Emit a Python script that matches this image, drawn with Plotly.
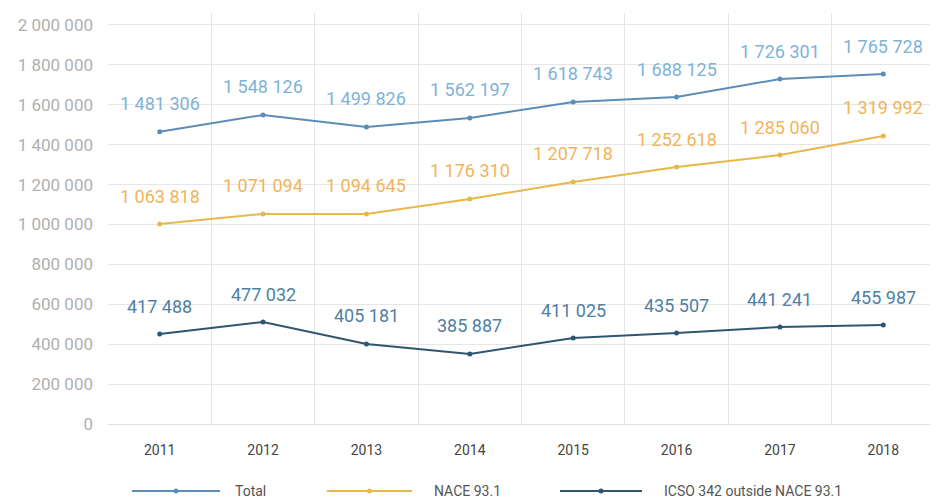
import plotly.graph_objects as go

years = ["2011", "2012", "2013", "2014", "2015", "2016", "2017", "2018"]

total_values = [1465000, 1549000, 1489000, 1534000, 1614000, 1639000, 1729000, 1754000]
nace_values = [1002000, 1053000, 1053000, 1128000, 1213000, 1288000, 1348000, 1444000]
icso_values = [451000, 511000, 401000, 351000, 431000, 456000, 486000, 496000]

total_labels = ["1 481 306", "1 548 126", "1 499 826", "1 562 197", "1 618 743", "1 688 125", "1 726 301", "1 765 728"]
nace_labels = ["1 063 818", "1 071 094", "1 094 645", "1 176 310", "1 207 718", "1 252 618", "1 285 060", "1 319 992"]
icso_labels = ["417 488", "477 032", "405 181", "385 887", "411 025", "435 507", "441 241", "455 987"]

series_names = ["Total", "NACE 93.1", "ICSO 342 outside NACE 93.1"]

FONT = "Roboto, Liberation Sans, sans-serif"

series = [
    (series_names[0], total_values, total_labels, "#5b8db8", "#7fb2d8"),
    (series_names[1], nace_values, nace_labels, "#e9b84c", "#f0b45a"),
    (series_names[2], icso_values, icso_labels, "#2f5670", "#4f7fa3"),
]

fig = go.Figure()
annotations = []
for name, vals, labs, lc, tc in series:
    fig.add_trace(go.Scatter(
        x=years, y=vals, name=name, mode="lines+markers",
        line=dict(color=lc, width=2),
        marker=dict(color=lc, size=5),
        showlegend=False,
    ))
    for i, (y, t) in enumerate(zip(vals, labs)):
        annotations.append(dict(
            x=i, y=y, xref="x", yref="y", text=t, showarrow=False, yshift=28,
            font=dict(family=FONT, size=18, color=tc),
        ))

# page body has an 8px default margin; compensate
OFF = 8
W, H = 938, 500
ml, mr, mt, mb = 108 - OFF, 11, 13 - OFF, 84
pw = W - ml - mr
ph = H - mt - mb

def px(x):
    return (x - OFF - ml) / pw

def py(y):
    return (H - mb - (y - OFF)) / ph

shapes = []
legend_items = [
    (132, 220, 233, series[0][3]),
    (327, 412, 432, series[1][3]),
    (560, 642, 662, series[2][3]),
]
ly = 491
for (x0, x1, tx, col), name in zip(legend_items, series_names):
    shapes.append(dict(type="line", xref="paper", yref="paper",
                       x0=px(x0), x1=px(x1), y0=py(ly), y1=py(ly),
                       line=dict(color=col, width=2)))
    xm = (x0 + x1) / 2
    shapes.append(dict(type="circle", xref="paper", yref="paper",
                       x0=px(xm - 2.5), x1=px(xm + 2.5), y0=py(ly - 2.5), y1=py(ly + 2.5),
                       fillcolor=col, line=dict(color=col, width=0)))
    annotations.append(dict(xref="paper", yref="paper", x=px(tx), y=py(ly),
                            xanchor="left", yanchor="middle", text=name, showarrow=False,
                            font=dict(family=FONT, size=14, color="#555555")))

fig.update_layout(
    width=W, height=H,
    margin=dict(l=ml, r=mr, t=mt, b=mb),
    paper_bgcolor="white", plot_bgcolor="white",
    separators=", ",
    showlegend=False,
    annotations=annotations,
    shapes=shapes,
    xaxis=dict(
        type="category", tickson="boundaries", showgrid=True, gridcolor="#e6e6e6",
        gridwidth=1, showline=False, zeroline=False, ticks="", automargin=False,
        tickfont=dict(family=FONT, size=14, color="#444444"),
        range=[-0.5, 7.5], ticklabelstandoff=16,
    ),
    yaxis=dict(
        range=[0, 2060000], tickvals=[0, 200000, 400000, 600000, 800000, 1000000,
                                      1200000, 1400000, 1600000, 1800000, 2000000],
        tickformat=",d", showgrid=True, gridcolor="#e6e6e6", gridwidth=1,
        zeroline=True, zerolinecolor="#e0e0e0", zerolinewidth=1, showline=False,
        ticks="", automargin=False, tickfont=dict(family=FONT, size=17, color="#b0b0b0"),
        ticklabelstandoff=14,
    ),
    font=dict(family=FONT),
)

fig.write_html("out.html")
